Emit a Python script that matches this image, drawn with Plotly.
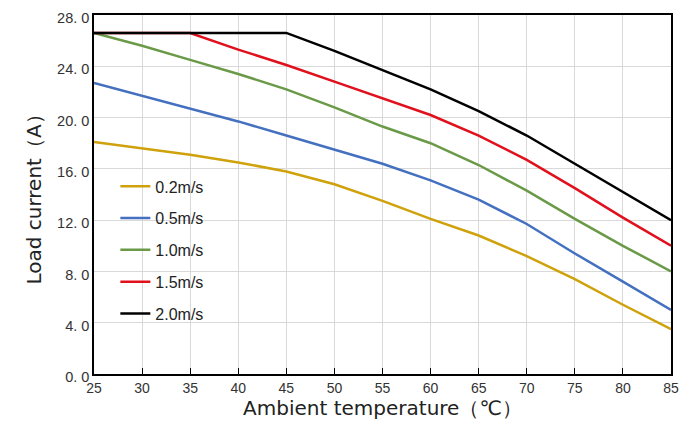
import plotly.graph_objects as go

# ambient temperature (deg C)
temps = [25, 30, 35, 40, 45, 50, 55, 60, 65, 70, 75, 80, 85]

# load current (A) per airflow
cur_02 = [18.1, 17.6, 17.1, 16.5, 15.8, 14.8, 13.5, 12.1, 10.8, 9.2, 7.4, 5.4, 3.5]
cur_05 = [22.7, 21.7, 20.7, 19.7, 18.6, 17.5, 16.4, 15.1, 13.6, 11.7, 9.4, 7.2, 5.0]
cur_10 = [26.6, 25.6, 24.5, 23.4, 22.2, 20.8, 19.3, 18.0, 16.3, 14.3, 12.1, 10.0, 8.0]
cur_15 = [26.6, 26.6, 26.6, 25.3, 24.1, 22.8, 21.5, 20.2, 18.6, 16.7, 14.5, 12.2, 10.0]
cur_20 = [26.6, 26.6, 26.6, 26.6, 26.6, 25.2, 23.7, 22.2, 20.5, 18.6, 16.4, 14.2, 12.0]

series_names = ["0.2m/s", "0.5m/s", "1.0m/s", "1.5m/s", "2.0m/s"]
series_vals = [cur_02, cur_05, cur_10, cur_15, cur_20]
colors = ["#CFA20C", "#4470C0", "#6A9A48", "#E0101C", "#000000"]

y_ticks = [0, 4, 8, 12, 16, 20, 24, 28]
y_labels = ["0. 0", "4. 0", "8. 0", "12. 0", "16. 0", "20. 0", "24. 0", "28. 0"]
x_ticks = [25, 30, 35, 40, 45, 50, 55, 60, 65, 70, 75, 80, 85]

fig = go.Figure()
for name, vals, col in zip(series_names, series_vals, colors):
    fig.add_trace(go.Scatter(
        x=temps, y=vals, name=name, mode="lines",
        line=dict(color=col, width=2.5),
        legendgroup=name,
    ))

title_font = dict(size=20, color="#222222", family="DejaVu Sans, sans-serif")

# the page has an 8px body margin, so margins are offset to compensate
fig.update_layout(
    width=694, height=439,
    margin=dict(l=86, r=31, t=7, b=73),
    paper_bgcolor="white",
    plot_bgcolor="white",
    font=dict(family="Liberation Sans, Arial, sans-serif", color="#333333"),
    showlegend=True,
    legend=dict(
        x=0.037, y=0.57, xanchor="left", yanchor="top",
        bgcolor="rgba(0,0,0,0)",
        font=dict(size=16, color="#222222"),
        tracegroupgap=8,
        itemwidth=30,
    ),
    xaxis=dict(
        range=[25, 85],
        tickvals=x_ticks,
        ticks="inside", ticklen=6, tickcolor="#000000",
        tickfont=dict(size=14, color="#333333"),
        ticklabeloverflow="allow",
        showgrid=True, gridcolor="#d9d9d9", gridwidth=1,
        showline=True, linecolor="#000000", linewidth=1.5, mirror=True,
        zeroline=False, automargin=False,
        title=dict(text="Ambient temperature（℃）", font=title_font, standoff=6),
    ),
    yaxis=dict(
        range=[0, 28],
        tickvals=y_ticks, ticktext=y_labels,
        ticks="",
        tickfont=dict(size=14.5, color="#333333"),
        ticklabeloverflow="allow",
        ticklabelshift=3,
        showgrid=True, gridcolor="#d9d9d9", gridwidth=1,
        showline=True, linecolor="#000000", linewidth=1.5, mirror=True,
        zeroline=False, automargin=False,
        title=dict(text="Load current（A）", font=title_font, standoff=10),
    ),
)

fig.write_html("out.html")
